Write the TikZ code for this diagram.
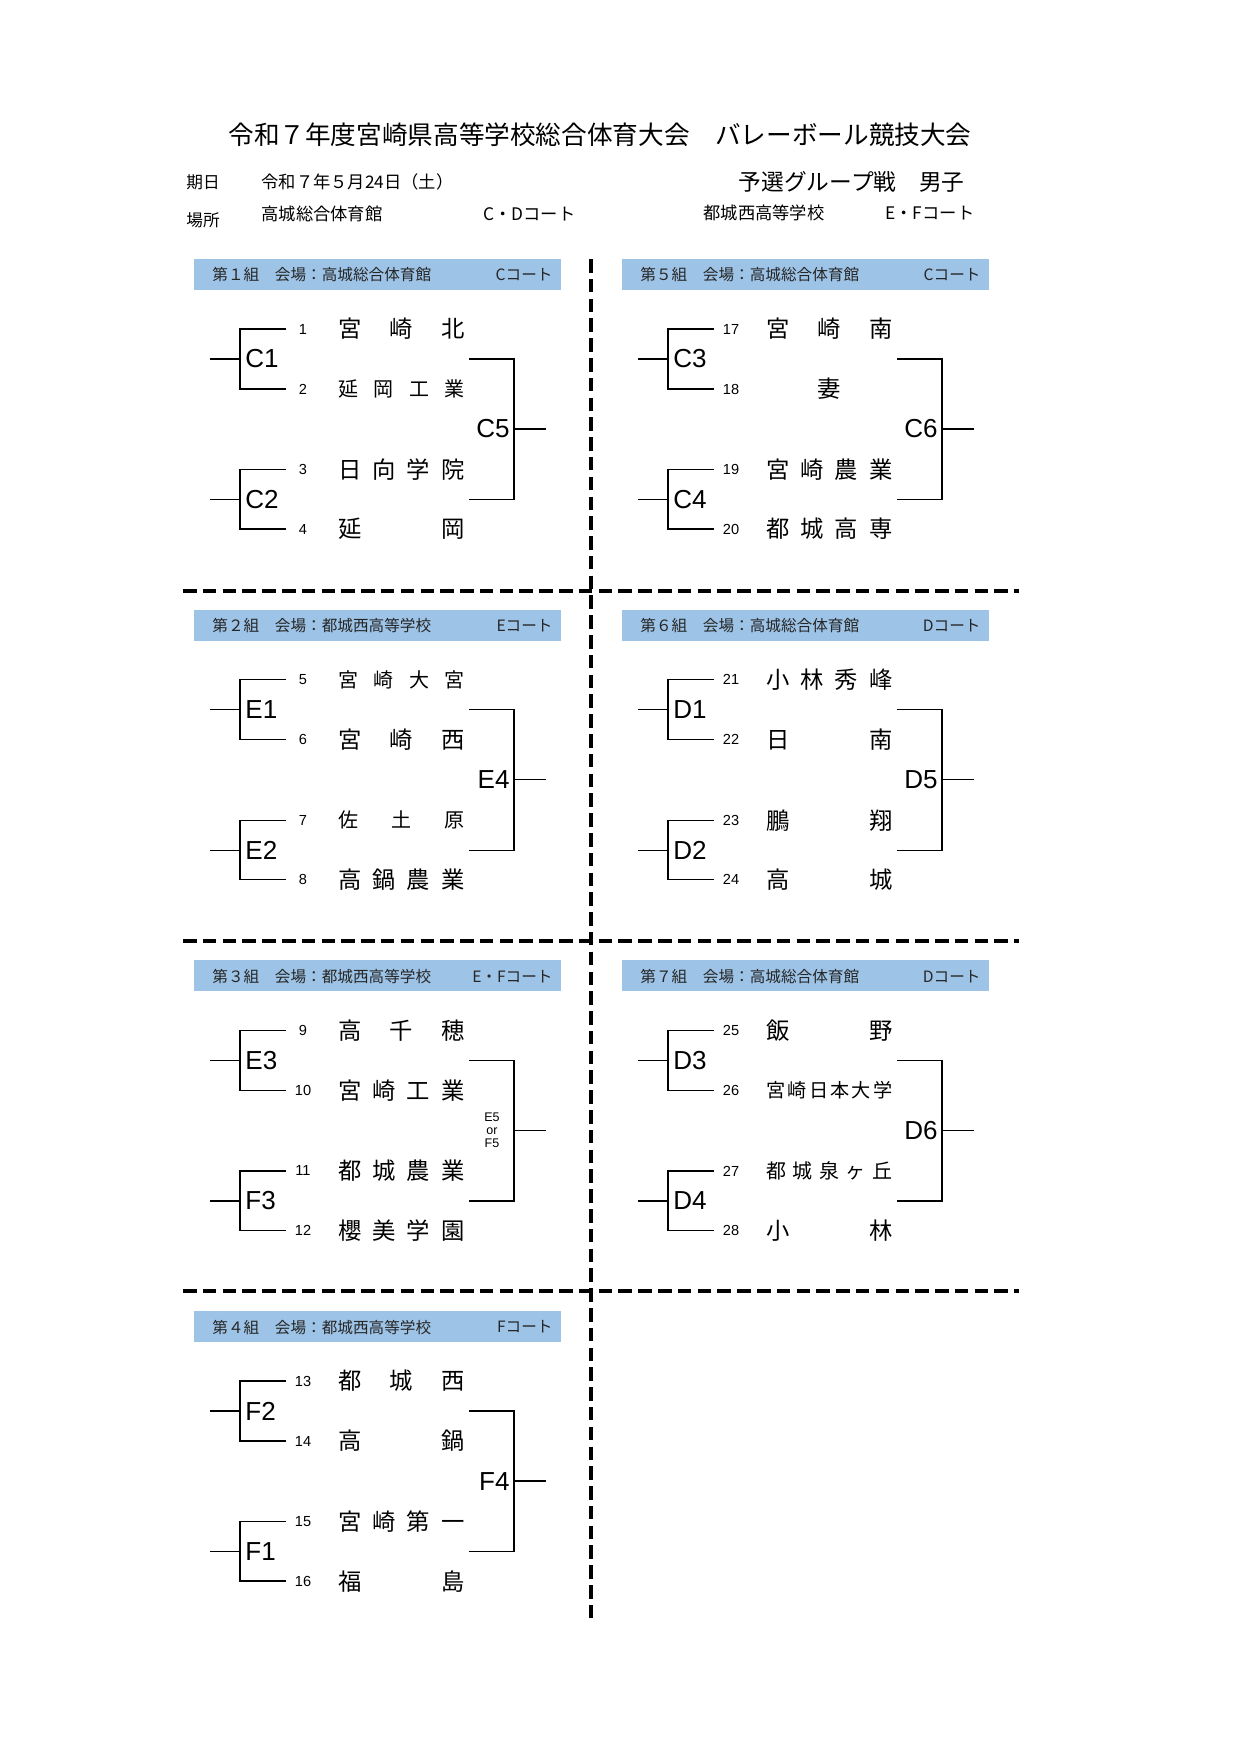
\documentclass[tikz,border=0pt]{standalone}
\usepackage{fontspec}
\setmainfont{Liberation Sans}
\newfontfamily\jp{Noto Sans CJK JP}

\definecolor{barblue}{RGB}{157,195,230}

% team names spread over the slot
\newcommand{\spread}[1]{\makebox[60.5pt][s]{#1}}
\newcommand{\sspread}[1]{{\fontsize{9.6}{11}\selectfont\makebox[60.5pt][s]{#1}}}

\tikzset{
  line/.style={line width=0.65pt},
  cut/.style={line width=1.6pt, dash pattern=on 6.5pt off 3pt},
  bar/.style={fill=barblue, draw=none},
  bartext/.style={font=\jp\fontsize{7.5}{9}\selectfont, text=black!85, inner sep=0pt},
  head/.style={font=\jp\fontsize{8.3}{10}\selectfont, anchor=west, inner sep=0pt},
  num/.style={font=\fontsize{7}{8}\selectfont, inner sep=0pt},
  team/.style={font=\jp\fontsize{11.2}{13}\selectfont, anchor=west, inner sep=0pt},
  game/.style={font=\fontsize{12.5}{14}\selectfont, inner sep=0pt},
}

\begin{document}
\begin{tikzpicture}[x=0.48pt, y=-0.48pt]
    \useasboundingbox (0,0) rectangle (1241,1755);

    % heading
    \node[font=\jp\fontsize{12.3}{14}\selectfont] (title) at (600,135)
        {令和７年度宮崎県高等学校総合体育大会　バレーボール競技大会};
    \node[head, font=\jp\fontsize{8}{10}\selectfont] (kijitsu) at (186,182) {期日};
    \node[head] (date) at (261,182) {令和７年５月24日（土）};
    \node[head, anchor=east, font=\jp\fontsize{10.9}{12}\selectfont] (prelim) at (965,182) {予選グループ戦　男子};
    \node[head, font=\jp\fontsize{8}{10}\selectfont] (basho) at (186,220) {場所};
    \node[head] (venueC) at (261,214) {高城総合体育館};
    \node[head] (courtC) at (483,214) {C・Dコート};
    \node[head] (venueE) at (703,213) {都城西高等学校};
    \node[head] (courtE) at (885,213) {E・Fコート};

    % cut lines
    \draw[cut] (591,259) -- (591,1621);
    \foreach \y in {591,941,1291}
        \draw[cut] (183,\y) -- (1019,\y);

    % groups
    \foreach \c/\r/\hd/\ct/\la/\lb/\lc/\ta/\tb/\tc/\td [count=\g] in {
      0/0/{第１組　会場：高城総合体育館}/{Cコート}/C1/C2/C5/{\spread{宮\hfill 崎\hfill 北}}/{\sspread{延\hfill 岡\hfill 工\hfill 業}}/{\spread{日\hfill 向\hfill 学\hfill 院}}/{\spread{延\hfill 岡}},
      0/1/{第２組　会場：都城西高等学校}/{Eコート}/E1/E2/E4/{\sspread{宮\hfill 崎\hfill 大\hfill 宮}}/{\spread{宮\hfill 崎\hfill 西}}/{\sspread{佐\hfill 土\hfill 原}}/{\spread{高\hfill 鍋\hfill 農\hfill 業}},
      0/2/{第３組　会場：都城西高等学校}/{E・Fコート}/E3/F3/{}/{\spread{高\hfill 千\hfill 穂}}/{\spread{宮\hfill 崎\hfill 工\hfill 業}}/{\spread{都\hfill 城\hfill 農\hfill 業}}/{\spread{櫻\hfill 美\hfill 学\hfill 園}},
      0/3/{第４組　会場：都城西高等学校}/{Fコート}/F2/F1/F4/{\spread{都\hfill 城\hfill 西}}/{\spread{高\hfill 鍋}}/{\spread{宮\hfill 崎\hfill 第\hfill 一}}/{\spread{福\hfill 島}},
      1/0/{第５組　会場：高城総合体育館}/{Cコート}/C3/C4/C6/{\spread{宮\hfill 崎\hfill 南}}/{\makebox[60.5pt][c]{妻}}/{\spread{宮\hfill 崎\hfill 農\hfill 業}}/{\spread{都\hfill 城\hfill 高\hfill 専}},
      1/1/{第６組　会場：高城総合体育館}/{Dコート}/D1/D2/D5/{\spread{小\hfill 林\hfill 秀\hfill 峰}}/{\spread{日\hfill 南}}/{\spread{鵬\hfill 翔}}/{\spread{高\hfill 城}},
      1/2/{第７組　会場：高城総合体育館}/{Dコート}/D3/D4/D6/{\spread{飯\hfill 野}}/{{\fontsize{9.2}{10}\selectfont\makebox[60.5pt][s]{宮\hfill 崎\hfill 日\hfill 本\hfill 大\hfill 学}}}/{\sspread{都\hfill 城\hfill 泉\hfill ヶ\hfill 丘}}/{\spread{小\hfill 林}}} {
        \pgfmathsetmacro\X{428*\c}
        \pgfmathsetmacro\T{259+350.7*\r}
        \pgfmathtruncatemacro\base{16*\c+4*\r}
        % header bar
        \fill[bar] (194+\X,\T) rectangle (561+\X,\T+31);
        \node[bartext, anchor=west] (hd\g) at (212+\X,\T+16) {\hd};
        \node[bartext, anchor=east] (ct\g) at (553+\X,\T+16) {\ct};
        % entries
        \foreach \y/\tm [count=\i] in {70/\ta,130/\tb,210.5/\tc,270/\td} {
            \pgfmathtruncatemacro\k{\base+\i}
            \coordinate (e\k) at (286+\X,\T+\y);
            \node[num] (n\k) at (303+\X,\T+\y) {\k};
            \node[team] (t\k) at (338+\X,\T+\y) {\tm};
        }
        % first round
        \coordinate (pa\g) at (240+\X,\T+100);
        \coordinate (pb\g) at (240+\X,\T+240.5);
        \pgfmathtruncatemacro\ka{\base+1}
        \pgfmathtruncatemacro\kb{\base+2}
        \pgfmathtruncatemacro\kc{\base+3}
        \pgfmathtruncatemacro\kd{\base+4}
        \draw[line] (e\ka) -| (pa\g) |- (e\kb);
        \draw[line] (e\kc) -| (pb\g) |- (e\kd);
        \draw[line] (pa\g) -- ++(-30,0);
        \draw[line] (pb\g) -- ++(-30,0);
        \node[game, anchor=west] (ga\g) at (245+\X,\T+100) {\la};
        \node[game, anchor=west] (gb\g) at (245+\X,\T+240.5) {\lb};
        % second round
        \coordinate (qa\g) at (469+\X,\T+100);
        \coordinate (qb\g) at (469+\X,\T+240.5);
        \coordinate (qm\g) at (514+\X,\T+170);
        \draw[line] (qa\g) -| (qm\g) |- (qb\g);
        \draw[line] (qm\g) -- ++(32,0);
        \node[game, anchor=east] (gc\g) at (510+\X,\T+170) {\lc};
    }
    \node[font=\fontsize{6}{6.3}\selectfont, align=center, inner sep=0pt] (ef5) at (492,1130) {E5\\or\\F5};
\end{tikzpicture}
\end{document}
